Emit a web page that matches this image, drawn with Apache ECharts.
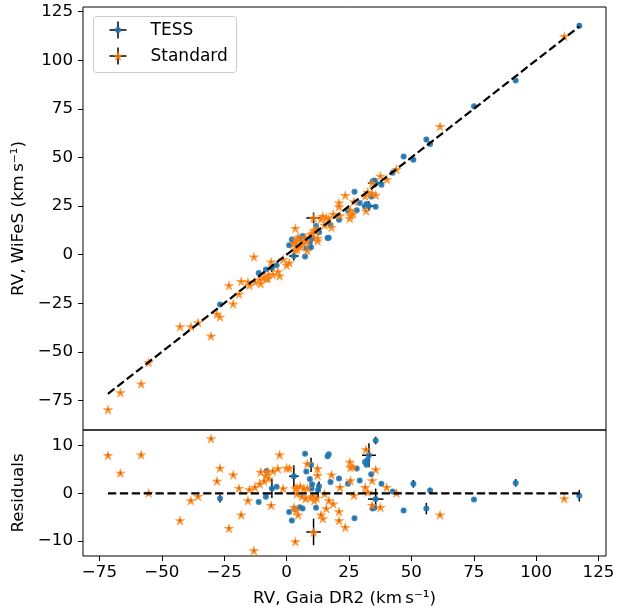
<!DOCTYPE html>
<html>
<head>
<meta charset="utf-8">
<script src="https://cdn.jsdelivr.net/npm/echarts@6/dist/echarts.min.js"></script>
<style>html,body{margin:0;padding:0;background:#fff}#c{width:633px;height:612px}</style>
</head>
<body>
<div id="c"></div>
<script>
// ---- data (km/s) ----
const tessGaia  = [-26.7,-11.2,-8.3,-8.0,-5.9,-4.0,1.0,2.1,2.9,3.2,5.3,6.4,7.9,7.4,9.3,9.8,10.2,10.0,11.8,12.6,16.4,16.9,17.6,21.0,24.6,27.2,28.1,29.3,31.4,32.0,32.4,33.0,33.9,35.7,35.7,34.5,35.2,38.0,42.5,46.9,50.8,56.0,57.5,75.1,91.8,117.3,13.0];
const tessWifes = [-25.6,-9.4,-7.6,-12.7,-6.9,-5.4,4.9,7.8,-0.7,6.5,8.2,9.6,3.3,-0.9,6.3,3.8,8.3,9.0,14.8,11.9,8.6,8.7,15.2,17.9,22.6,32.4,22.9,26.6,24.8,26.0,25.4,25.0,29.9,24.6,36.9,37.7,38.2,36.0,42.1,50.5,48.8,59.2,56.9,76.4,89.6,117.8,11.5];
const tessXerr  = [0.3,0.3,0.3,0.3,0.8,0.3,0.3,0.3,1.9,0.3,0.3,0.3,0.3,0.3,0.3,0.3,0.3,0.3,0.3,0.3,0.3,0.3,0.3,0.3,0.3,0.3,0.3,0.3,0.3,0.3,0.3,2.8,0.3,0.3,3.1,0.3,0.3,0.3,0.3,0.3,0.3,0.3,0.3,0.3,0.3,0.3,0.3];
const tessYerr  = [0.8,0.3,0.3,0.3,2.0,0.3,0.3,0.3,2.3,0.3,0.3,0.3,0.3,0.3,0.3,1.5,0.3,0.3,0.3,1.5,0.3,0.3,0.3,0.3,0.3,0.3,0.3,0.3,0.3,0.3,0.3,2.5,0.3,0.8,2.2,0.3,0.3,0.3,0.3,0.3,0.8,1.2,0.6,0.3,0.8,1.2,1.0];

const stdGaia  = [-71.6,-66.6,-58.3,-55.3,-42.7,-38.4,-35.5,-30.3,-27.9,-26.7,-23.1,-21.4,-19.1,-18.2,-15.5,-13.1,-14.9,-12.7,-10.8,-10.4,-8.3,-7.2,-6.2,-7.6,-3.5,-2.8,-1.4,0.0,1.1,3.0,3.5,4.1,4.6,3.5,6.9,8.3,8.3,6.2,7.6,9.7,11.1,10.8,12.4,12.4,13.8,14.5,15.2,15.9,16.9,18.0,18.7,21.0,21.0,21.4,23.5,25.6,26.6,25.6,27.0,31.8,31.5,32.5,34.3,35.7,34.3,37.6,40.1,44.0,61.5,111.3,-5.5,-9.0,5.5,4.2,10.5,12.0,3.8,25.3];
const stdWifes = [-79.6,-70.9,-66.4,-55.4,-37.0,-36.9,-34.9,-41.8,-30.5,-32.0,-15.8,-25.3,-20.2,-13.7,-14.0,-1.1,-15.7,-14.0,-12.8,-14.9,-12.1,-10.3,-3.7,-12.2,-8.7,-10.9,-2.4,-5.3,-4.2,5.9,2.5,4.2,9.1,13.6,5.9,7.2,2.1,6.8,8.7,10.5,12.6,18.9,7.2,8.6,18.3,19.8,15.3,19.1,18.4,14.1,20.9,26.7,24.8,20.1,30.6,20.1,21.0,22.9,27.4,22.6,30.2,32.2,31.6,30.7,36.8,40.5,38.8,43.9,66.0,112.4,-10.2,-11.6,4.0,3.0,11.1,13.0,7.4,18.7];
const stdXerr  = [0.3,0.3,0.3,0.3,0.3,0.3,0.3,0.3,0.3,0.3,0.3,0.3,0.3,0.3,0.3,0.3,0.3,0.3,0.3,0.3,0.3,0.3,0.3,0.3,0.3,0.3,0.3,0.3,0.3,0.3,0.3,0.3,0.3,0.3,0.3,0.3,0.3,0.3,0.3,0.3,0.3,2.9,0.3,0.3,0.3,0.3,0.3,0.3,0.3,0.3,0.3,0.3,0.3,0.3,0.3,0.3,0.3,0.3,0.3,0.3,0.3,0.3,0.3,0.3,0.3,0.3,0.3,0.3,0.3,0.3,0.3,0.3,0.3,0.3,0.3,0.3,0.3,0.3];
const stdYerr  = [0.3,0.3,0.3,0.3,0.3,0.3,0.3,0.3,0.3,0.3,0.3,0.3,0.3,0.3,0.3,0.3,0.3,0.3,0.3,0.3,0.3,0.3,0.3,0.3,0.3,0.3,0.3,0.3,0.3,0.3,0.3,0.3,0.3,0.3,0.3,0.3,0.3,0.3,0.3,0.3,0.3,2.8,0.3,0.3,0.3,0.3,0.3,0.3,0.3,0.3,0.3,0.3,0.3,0.3,0.3,0.3,0.3,0.3,0.3,0.3,0.3,0.3,0.3,0.3,0.3,0.3,0.3,0.3,0.3,0.3,0.3,0.3,0.3,0.3,0.3,0.3,0.3,0.3];

const xTicks    = [-75,-50,-25,0,25,50,75,100,125];
const yTicksTop = [-75,-50,-25,0,25,50,75,100,125];
const yTicksRes = [-10,0,10];

const seriesNames = ['TESS','Standard'];
const xLabel = 'RV, Gaia DR2 (km\u2009s\u207B\u00B9)';
const yLabelTop = 'RV, WiFeS (km\u2009s\u207B\u00B9)';
const yLabelRes = 'Residuals';

// ---- derived ----
const tessRes = tessGaia.map((g,i)=> +(g - tessWifes[i]).toFixed(3));
const stdRes  = stdGaia.map((g,i)=> +(g - stdWifes[i]).toFixed(3));
const allGaia = tessGaia.concat(stdGaia);
const lo = Math.min(...allGaia), hi = Math.max(...allGaia);

const FONT = 'DejaVu Sans';
const FS = 16.7;
const BLUE = '#1f77b4', ORANGE = '#ff7f0e';
const starD = 'M0,-100L-22.45,-30.9L-95.1,-30.9L-36.3,11.8L-58.8,80.9L0,38.2L58.8,80.9L36.3,11.8L95.1,-30.9L22.45,-30.9Z';
const starPath = 'path://' + starD;
const unitStar = [[0,-1],[-0.2245,-0.309],[-0.951,-0.309],[-0.363,0.118],[-0.588,0.809],[0,0.382],[0.588,0.809],[0.363,0.118],[0.951,-0.309],[0.2245,-0.309]];
const minus = v => String(v).replace('-', '\u2212');

function errItem(params, api){
  const x = api.value(0), y = api.value(1), xe = api.value(2), ye = api.value(3);
  const a = api.coord([x-xe, y]), b = api.coord([x+xe, y]);
  const c = api.coord([x, y-ye]), d = api.coord([x, y+ye]);
  const st = {stroke:'#000', lineWidth:1.5};
  return {type:'group', children:[
    {type:'line', shape:{x1:a[0],y1:a[1],x2:b[0],y2:b[1]}, style:st},
    {type:'line', shape:{x1:c[0],y1:c[1],x2:d[0],y2:d[1]}, style:st}
  ]};
}

const pts = (xs, ys) => xs.map((x,i)=>[x, ys[i]]);
const errs = (xs, ys, xe, ye) => xs.map((x,i)=>[x, ys[i], xe[i], ye[i]]);

const axisTextStyle = {fontFamily:FONT, fontSize:FS, color:'#000'};

const chart = echarts.init(document.getElementById('c'), null, {renderer:'canvas'});

const STAR = 11, DOT = 6;
const legendStar = unitStar.map(p => [118 + 5.6*p[0], 56.4 + 5.6*p[1]]);

const option = {
  animation:false,
  backgroundColor:'#fff',
  grid:[
    {left:83, top:7, width:523, height:423, show:true, borderColor:'#000', borderWidth:1, backgroundColor:'transparent'},
    {left:83, top:430, width:523, height:126, show:true, borderColor:'#000', borderWidth:1, backgroundColor:'transparent'}
  ],
  xAxis:[
    {gridIndex:0, type:'value', min:-81.6, max:128,
     axisLine:{show:false, onZero:false}, axisTick:{show:false}, axisLabel:{show:false}, splitLine:{show:false}},
    {gridIndex:1, type:'value', min:-81.6, max:128,
     axisLine:{show:false, onZero:false},
     axisTick:{show:true, length:5, lineStyle:{color:'#000', width:1}, customValues:xTicks},
     axisLabel:Object.assign({customValues:xTicks, formatter:minus, margin:8}, axisTextStyle),
     splitLine:{show:false},
     name:xLabel, nameLocation:'middle', nameGap:34, nameTextStyle:axisTextStyle}
  ],
  yAxis:[
    {gridIndex:0, type:'value', min:-90.2, max:127.4,
     axisLine:{show:false, onZero:false},
     axisTick:{show:true, length:5, lineStyle:{color:'#000', width:1}, customValues:yTicksTop},
     axisLabel:Object.assign({customValues:yTicksTop, formatter:minus, margin:10}, axisTextStyle),
     splitLine:{show:false},
     name:yLabelTop, nameLocation:'middle', nameGap:47, nameTextStyle:axisTextStyle},
    {gridIndex:1, type:'value', min:-13.15, max:13.3,
     axisLine:{show:false, onZero:false},
     axisTick:{show:true, length:5, lineStyle:{color:'#000', width:1}, customValues:yTicksRes},
     axisLabel:Object.assign({customValues:yTicksRes, formatter:minus, margin:10}, axisTextStyle),
     splitLine:{show:false},
     name:yLabelRes, nameLocation:'middle', nameGap:48, nameTextStyle:axisTextStyle}
  ],
  series:[
    {type:'custom', name:seriesNames[0]+' err', xAxisIndex:0, yAxisIndex:0, z:1, silent:true,
     renderItem:errItem, encode:{x:0,y:1}, data:errs(tessGaia, tessWifes, tessXerr, tessYerr)},
    {type:'custom', name:seriesNames[1]+' err', xAxisIndex:0, yAxisIndex:0, z:1, silent:true,
     renderItem:errItem, encode:{x:0,y:1}, data:errs(stdGaia, stdWifes, stdXerr, stdYerr)},
    {type:'scatter', name:seriesNames[0], xAxisIndex:0, yAxisIndex:0, z:2, silent:true,
     symbol:'circle', symbolSize:DOT, itemStyle:{color:BLUE, opacity:0.9}, data:pts(tessGaia, tessWifes)},
    {type:'scatter', name:seriesNames[1], xAxisIndex:0, yAxisIndex:0, z:3, silent:true,
     symbol:starPath, symbolKeepAspect:true, symbolSize:STAR, itemStyle:{color:ORANGE, opacity:0.8}, data:pts(stdGaia, stdWifes)},
    {type:'line', xAxisIndex:0, yAxisIndex:0, z:4, silent:true, symbol:'none',
     lineStyle:{color:'#000', width:2.2, type:[8.3,3.6]}, data:[[lo,lo],[hi,hi]]},
    {type:'custom', xAxisIndex:1, yAxisIndex:1, z:1, silent:true,
     renderItem:errItem, encode:{x:0,y:1}, data:errs(tessGaia, tessRes, tessXerr, tessYerr)},
    {type:'custom', xAxisIndex:1, yAxisIndex:1, z:1, silent:true,
     renderItem:errItem, encode:{x:0,y:1}, data:errs(stdGaia, stdRes, stdXerr, stdYerr)},
    {type:'scatter', xAxisIndex:1, yAxisIndex:1, z:2, silent:true,
     symbol:'circle', symbolSize:DOT, itemStyle:{color:BLUE, opacity:0.9}, data:pts(tessGaia, tessRes)},
    {type:'scatter', xAxisIndex:1, yAxisIndex:1, z:3, silent:true,
     symbol:starPath, symbolKeepAspect:true, symbolSize:STAR, itemStyle:{color:ORANGE, opacity:0.8}, data:pts(stdGaia, stdRes)},
    {type:'line', xAxisIndex:1, yAxisIndex:1, z:4, silent:true, symbol:'none',
     lineStyle:{color:'#000', width:2.2, type:[8.3,3.6]}, data:[[lo,0],[hi,0]]}
  ],
  graphic:[{
    type:'group', z:100, children:[
      {type:'rect', shape:{x:93.5, y:16.5, width:143, height:56, r:3},
       style:{fill:'rgba(255,255,255,0.8)', stroke:'#cccccc', lineWidth:1}},
      {type:'line', shape:{x1:109.5,y1:30,x2:126.5,y2:30}, style:{stroke:'#000', lineWidth:1.5}},
      {type:'line', shape:{x1:118,y1:21.5,x2:118,y2:38.5}, style:{stroke:'#000', lineWidth:1.5}},
      {type:'circle', shape:{cx:118, cy:30, r:3}, style:{fill:BLUE, opacity:0.9}},
      {type:'text', style:{text:seriesNames[0], x:150.5, y:31, verticalAlign:'middle', fontFamily:FONT, fontSize:17, fill:'#000'}},
      {type:'line', shape:{x1:109.5,y1:56,x2:126.5,y2:56}, style:{stroke:'#000', lineWidth:1.5}},
      {type:'line', shape:{x1:118,y1:47.5,x2:118,y2:64.5}, style:{stroke:'#000', lineWidth:1.5}},
      {type:'polygon', shape:{points:legendStar}, style:{fill:ORANGE, opacity:0.8}},
      {type:'text', style:{text:seriesNames[1], x:150.5, y:57, verticalAlign:'middle', fontFamily:FONT, fontSize:17, fill:'#000'}}
    ]
  }]
};
chart.setOption(option);
</script>
</body>
</html>
